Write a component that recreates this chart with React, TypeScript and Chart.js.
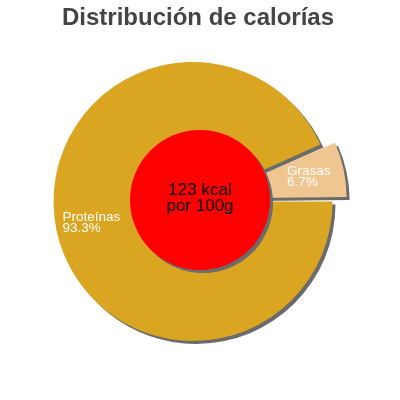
import React, { useEffect, useRef } from "react";
import { Chart, registerables } from "chart.js";

Chart.register(...registerables);

const TITLE = "Distribución de calorías";
const CATEGORIES = ["Proteínas", "Grasas"];
const PERCENTS = [93.3, 6.7];
const COLORS = ["#DAA520", "#EFC690"];
const EXPLODE = [0, 58];
const KCAL = 123;
const CENTER_LINES = [`${KCAL} kcal`, "por 100g"];

const FONT = '"Liberation Sans", Arial, Helvetica, sans-serif';
const SHADOW = "#6b6b6b";
const RADIUS = 139.5;
const LABEL_RADIUS = 0.745;

export default function App() {
  const ref = useRef<HTMLCanvasElement>(null);

  useEffect(() => {
    const canvas = ref.current!;
    const decor = {
      id: "decor",
      afterDatasetsUpdate(chart: any) {
        const meta = chart.getDatasetMeta(0);
        meta.data.forEach((el: any, i: number) => {
          const off = (EXPLODE[i] || 0) / 4;
          if (!off) return;
          const circ = el.endAngle - el.startAngle;
          const fix = 1 - Math.sin(Math.min(Math.PI, circ));
          el.outerRadius = el.outerRadius - off * fix;
        });
      },
      beforeDatasetsDraw(chart: any) {
        const ctx = chart.ctx as CanvasRenderingContext2D;
        ctx.save();
        ctx.shadowColor = SHADOW;
        ctx.shadowOffsetX = 3;
        ctx.shadowOffsetY = 3;
        ctx.shadowBlur = 0;
      },
      afterDatasetsDraw(chart: any) {
        const ctx = chart.ctx as CanvasRenderingContext2D;
        ctx.restore();
        const meta = chart.getDatasetMeta(0);
        const first = meta.data[0] as any;
        const cx0 = first.x;
        const cy0 = first.y;

        // inner red disc
        ctx.save();
        ctx.shadowColor = SHADOW;
        ctx.shadowOffsetX = 3;
        ctx.shadowOffsetY = 3;
        ctx.shadowBlur = 0;
        ctx.beginPath();
        ctx.arc(cx0 + 7, cy0 - 1.5, 70, 0, Math.PI * 2);
        ctx.fillStyle = "#FF0000";
        ctx.fill();
        ctx.restore();

        ctx.save();
        ctx.fillStyle = "#000";
        ctx.font = `17px ${FONT}`;
        ctx.textAlign = "center";
        ctx.textBaseline = "alphabetic";
        ctx.fillText(CENTER_LINES[0], cx0 + 7, cy0 - 6.5);
        ctx.fillText(CENTER_LINES[1], cx0 + 7, cy0 + 9.5);
        ctx.restore();

        // slice labels
        ctx.save();
        ctx.fillStyle = "#FFFFFF";
        ctx.font = `13.5px ${FONT}`;
        ctx.textAlign = "left";
        ctx.textBaseline = "alphabetic";
        meta.data.forEach((el: any, i: number) => {
          const mid = (el.startAngle + el.endAngle) / 2;
          const d = (EXPLODE[i] || 0) / 4 + LABEL_RADIUS * RADIUS;
          const cx = el.x + Math.cos(mid) * d;
          const cy = el.y + Math.sin(mid) * d;
          const l1 = CATEGORIES[i];
          const l2 = `${PERCENTS[i].toFixed(1)}%`;
          const w = Math.max(ctx.measureText(l1).width, ctx.measureText(l2).width);
          const x = cx - w / 2;
          ctx.fillText(l1, x, cy - 2);
          ctx.fillText(l2, x, cy + 9);
        });
        ctx.restore();

        // title
        ctx.save();
        ctx.fillStyle = "#444444";
        ctx.font = `bold 24px ${FONT}`;
        ctx.textAlign = "center";
        ctx.textBaseline = "alphabetic";
        ctx.fillText(TITLE, 198, 25);
        ctx.restore();
      },
    };

    const chart = new Chart(canvas, {
      type: "pie",
      data: {
        labels: CATEGORIES,
        datasets: [
          {
            data: PERCENTS,
            backgroundColor: COLORS,
            borderWidth: 0,
            offset: EXPLODE,
            clip: false as any,
          },
        ],
      },
      options: {
        responsive: false,
        animation: false,
        events: [],
        rotation: 90,
        radius: RADIUS,
        layout: { padding: { left: 0, right: 14, top: 3, bottom: 0 } },
        plugins: {
          legend: { display: false },
          title: { display: false },
          tooltip: { enabled: false },
        },
      } as any,
      plugins: [decor],
    });
    return () => chart.destroy();
  }, []);

  return (
    <div style={{ position: "absolute", left: 0, top: 0, width: 400, height: 400, background: "#fff" }}>
      <canvas ref={ref} width={400} height={400} style={{ display: "block", width: 400, height: 400 }} />
    </div>
  );
}
